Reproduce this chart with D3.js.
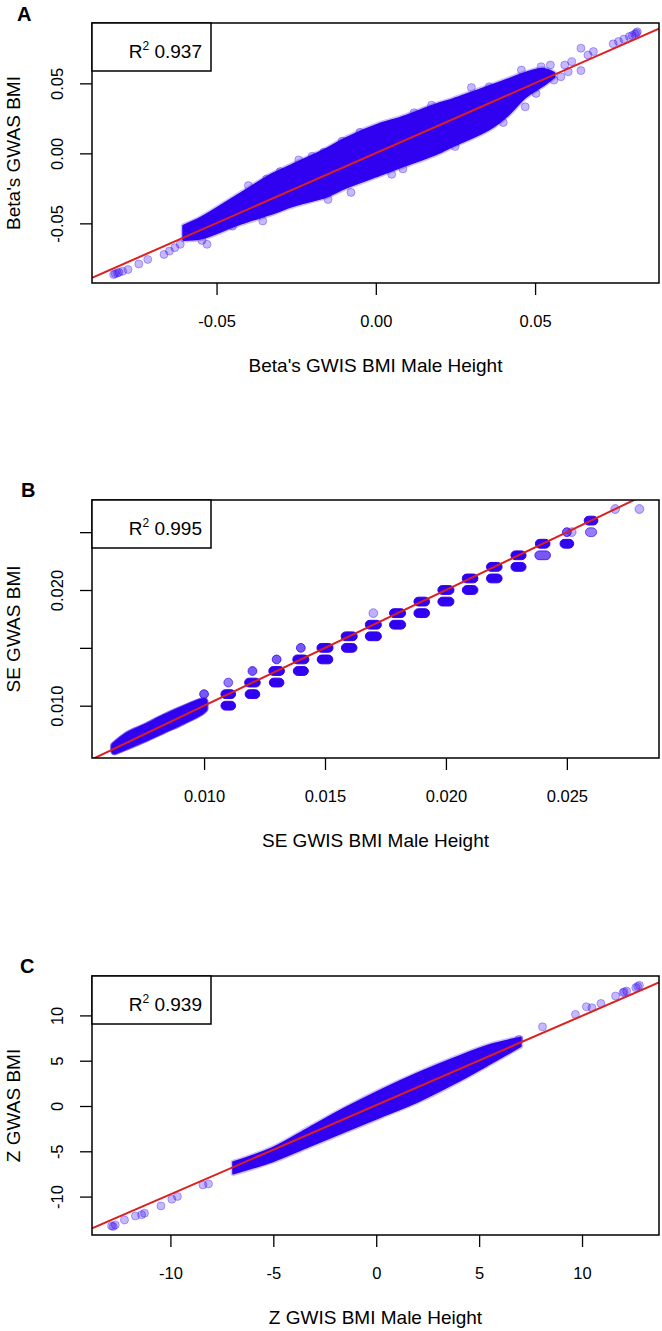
<!DOCTYPE html>
<html><head><meta charset="utf-8">
<script src="https://cdn.jsdelivr.net/npm/d3@7"></script>
<style>body{margin:0;background:#fff}svg{display:block}text{font-family:"Liberation Sans",Arial,sans-serif;fill:#000}</style>
</head><body><svg id="c" width="662" height="1331"></svg>
<script>
// ---------- Panel A : Beta ----------
const betaLimX = [-0.0891, 0.0889];
const betaLimY = [-0.0926, 0.0931];
const betaTicks = [-0.05, 0, 0.05];
const betaTickLabels = ["-0.05", "0.00", "0.05"];
const betaCoreX = [-0.0603, -0.0546, -0.0434, -0.0321, -0.0264, -0.0152, -0.0095, 0.0018, 0.0074, 0.0187, 0.0243, 0.0356, 0.0412, 0.0469, 0.0525, 0.0559];
const betaCoreLo = [-0.0615, -0.0603, -0.0507, -0.0423, -0.0375, -0.0303, -0.0243, -0.0147, -0.0099, -0.0004, 0.0056, 0.0176, 0.0272, 0.0404, 0.0488, 0.0547];
const betaCoreHi = [-0.0519, -0.0459, -0.0303, -0.0147, -0.0087, 0.0032, 0.0104, 0.0212, 0.0248, 0.0344, 0.0384, 0.0476, 0.0523, 0.0571, 0.0600, 0.0571];
const betaPtsX = [0.0745, 0.0762, 0.0779, 0.0796, 0.0813, 0.0821, 0.0805, 0.0818, 0.0644, 0.0683, 0.0666, 0.0615, 0.0593, 0.0604, 0.0644, 0.0581, 0.0548, 0.0519, 0.0559, 0.0457,
  -0.0823, -0.0811, -0.0795, -0.0778, -0.0744, -0.0716, -0.0665, -0.0648, -0.0631, -0.0614, -0.0589, -0.0558, -0.0530, -0.0546, -0.0818, -0.0806,
  -0.0242, -0.0106, 0.0249, 0.0085, -0.0078, -0.0163, -0.0355, 0.0356, 0.0175, -0.0513, -0.0343, 0.0469, 0.0503,
  -0.0400, -0.0300, -0.0200, -0.0050, 0.0120, 0.0300, -0.0450, -0.0150, 0.0050, 0.0200, 0.0400];
const betaPtsY = [0.0782, 0.0799, 0.0816, 0.0835, 0.0852, 0.0868, 0.0842, 0.0860, 0.0751, 0.0727, 0.0703, 0.0655, 0.0631, 0.0583, 0.0591, 0.0547, 0.0631, 0.0619, 0.0523, 0.0595,
  -0.0866, -0.0854, -0.0842, -0.0830, -0.0790, -0.0758, -0.0722, -0.0698, -0.0674, -0.0650, -0.0535, -0.0507, -0.0650, -0.0622, -0.0860, -0.0850,
  -0.0047, 0.0087, 0.0049, -0.0111, -0.0279, 0.0008, -0.0483, 0.0476, 0.0344, -0.0447, -0.0183, 0.0332, 0.0428,
  -0.0230, -0.0130, -0.0020, 0.0150, 0.0290, 0.0470, -0.0520, -0.0330, -0.0150, 0.0030, 0.0220];
const betaFit = [0.0002, 1.0];
const betaR2 = "0.937";

// ---------- Panel B : SE ----------
const seLimX = [0.005366, 0.02881];
const seLimY = [0.00548, 0.02778];
const seTicksX = [0.010, 0.015, 0.020, 0.025];
const seTickLabelsX = ["0.010", "0.015", "0.020", "0.025"];
const seTicksY = [0.010, 0.015, 0.020, 0.025];
const seTickLabelsY = ["0.010", "", "0.020", ""];
const seStripX = [0.00630, 0.00686, 0.00761, 0.00836, 0.00911, 0.00986, 0.01000];
const seStripLo = [0.00610, 0.00658, 0.00725, 0.00797, 0.00869, 0.00950, 0.00975];
const seStripHi = [0.00652, 0.00744, 0.00816, 0.00896, 0.00966, 0.01030, 0.01035];
// rounded SE groups: x, y, half spread of x within group, approx. count
const seGrpX = [0.010, 0.011, 0.011, 0.011, 0.012, 0.012, 0.012, 0.013, 0.013, 0.013, 0.014, 0.014, 0.014, 0.015, 0.015, 0.016, 0.016, 0.017, 0.017, 0.017,
  0.018, 0.018, 0.019, 0.019, 0.020, 0.020, 0.021, 0.021, 0.022, 0.022, 0.023, 0.023, 0.024, 0.024, 0.025, 0.0252, 0.025, 0.026, 0.026, 0.027, 0.028];
const seGrpY = [0.011, 0.012, 0.011, 0.010, 0.013, 0.012, 0.011, 0.014, 0.013, 0.012, 0.015, 0.014, 0.013, 0.015, 0.014, 0.016, 0.015, 0.018, 0.017, 0.016,
  0.018, 0.017, 0.019, 0.018, 0.020, 0.019, 0.021, 0.020, 0.022, 0.021, 0.023, 0.022, 0.024, 0.023, 0.025, 0.025, 0.024, 0.026, 0.025, 0.027, 0.027];
const seGrpW = [0, 0, 0.00012, 0.00012, 0, 0.00014, 0.00012, 0, 0.00014, 0.00012, 0, 0.00015, 0.00013, 0.00015, 0.00014, 0.00015, 0.00014, 0, 0.00015, 0.00015,
  0.00015, 0.00015, 0.00014, 0.00014, 0.00015, 0.00015, 0.00014, 0.00014, 0.00014, 0.00014, 0.00013, 0.00013, 0.00012, 0.00014, 0, 0, 0.0001, 0.0001, 0.00005, 0, 0];
const seGrpN = [3, 2, 20, 20, 3, 20, 20, 3, 20, 20, 3, 20, 20, 20, 20, 20, 20, 1, 20, 20,
  20, 20, 20, 20, 20, 20, 20, 20, 20, 20, 20, 20, 12, 3, 3, 1, 12, 10, 2, 1, 1];
const seFit = [0.0, 1.0];
const seR2 = "0.995";

// ---------- Panel C : Z ----------
const zLimX = [-13.81, 13.74];
const zLimY = [-14.24, 14.35];
const zTicks = [-10, -5, 0, 5, 10];
const zTickLabels = ["-10", "-5", "0", "5", "10"];
const zCoreX = [-6.95, -5.05, -3.27, -1.50, 0.28, 2.05, 3.83, 5.60, 7.02];
const zCoreLo = [-7.45, -6.12, -4.46, -2.80, -1.14, 0.52, 2.54, 4.76, 6.60];
const zCoreHi = [-6.20, -4.65, -2.43, -0.22, 1.81, 3.65, 5.31, 6.79, 7.53];
const zPtsX = [-12.86, -12.68, -12.78, -12.23, -11.70, -11.26, -11.40, -10.46, -9.93, -9.66, -8.42, -8.15,
  8.08, 9.68, 10.21, 10.48, 10.92, 11.63, 11.99, 12.17, 12.61, 12.79, 12.70, 12.05, 6.93];
const zPtsY = [-13.24, -13.13, -13.30, -12.58, -12.14, -11.84, -12.00, -11.03, -10.29, -9.99, -8.71, -8.60,
  8.74, 10.11, 10.96, 10.85, 11.32, 12.14, 12.51, 12.69, 13.06, 13.32, 13.20, 12.60, 7.34];
const zFit = [0.1, 0.985];
const zR2 = "0.939";

const DENSE = "#3000f0", RED = "#dc2020";
const svg = d3.select("#c");

function panel(o) {
  const L = 92, R = 659, T = o.top, B = o.top + o.h;
  const x = d3.scaleLinear().domain(o.limX).range([L, R]);
  const y = d3.scaleLinear().domain(o.limY).range([B, T]);
  const g = svg.append("g");
  const cid = "clip" + o.id;
  svg.append("clipPath").attr("id", cid).append("rect").attr("x", L).attr("y", T).attr("width", R - L).attr("height", B - T);
  const pg = g.append("g").attr("clip-path", `url(#${cid})`);

  if (o.coreX) {
    const core = o.coreX.map((v, i) => ({x: v, lo: o.coreLo[i], hi: o.coreHi[i]}));
    const area = d3.area().x(d => x(d.x)).y0(d => y(d.lo)).y1(d => y(d.hi)).curve(d3.curveCatmullRom);
    const dd = area(core);
    pg.append("path").attr("d", dd).attr("fill", "none")
      .attr("stroke", DENSE).attr("stroke-opacity", o.fringeOp).attr("stroke-width", o.fringe).attr("stroke-linejoin", "round");
    pg.append("path").attr("d", dd).attr("fill", DENSE)
      .attr("stroke", DENSE).attr("stroke-width", o.inner).attr("stroke-linejoin", "round");
  }
  if (o.grpX) {
    const r = 4.4;
    o.grpX.forEach((gx, i) => {
      const a = 1 - Math.pow(0.7, o.grpN[i]);
      const x0 = x(gx - o.grpW[i]), x1 = x(gx + o.grpW[i]);
      pg.append("rect").attr("x", x0 - r).attr("y", y(o.grpY[i]) - r).attr("width", x1 - x0 + 2 * r).attr("height", 2 * r)
        .attr("rx", r).attr("fill", DENSE).attr("fill-opacity", a).attr("stroke", DENSE).attr("stroke-opacity", Math.min(1, a + 0.1)).attr("stroke-width", 1);
    });
  }
  if (o.ptsX) {
    pg.selectAll("circle.p").data(o.ptsX.map((v, i) => [v, o.ptsY[i]])).enter().append("circle")
      .attr("cx", d => x(d[0])).attr("cy", d => y(d[1])).attr("r", 4)
      .attr("fill", DENSE).attr("fill-opacity", 0.28).attr("stroke", DENSE).attr("stroke-opacity", 0.32).attr("stroke-width", 1);
  }
  // fitted line
  const fx = o.limX, f = v => o.fit[0] + o.fit[1] * v;
  pg.append("line").attr("x1", x(fx[0])).attr("y1", y(f(fx[0]))).attr("x2", x(fx[1])).attr("y2", y(f(fx[1])))
    .attr("stroke", RED).attr("stroke-width", 2);

  // axes
  const ax = g.append("g").attr("transform", `translate(0,${B})`)
    .call(d3.axisBottom(x).tickValues(o.ticksX).tickSize(12).tickFormat((d, i) => o.labelsX[i]));
  ax.select(".domain").remove();
  ax.selectAll("line").attr("stroke", "#000").attr("stroke-width", 1.3);
  ax.selectAll("text").attr("y", 44).attr("dy", 0).attr("font-size", 16.5).attr("fill", "#000");
  const ay = g.append("g").attr("transform", `translate(${L},0)`)
    .call(d3.axisLeft(y).tickValues(o.ticksY).tickSize(12).tickFormat((d, i) => o.labelsY[i]));
  ay.select(".domain").remove();
  ay.selectAll("line").attr("stroke", "#000").attr("stroke-width", 1.3);
  ay.selectAll("text").attr("x", null).attr("dy", 0).attr("text-anchor", "middle")
    .attr("transform", "translate(-29,0) rotate(-90)").attr("font-size", 16.5).attr("fill", "#000");
  // box
  g.append("rect").attr("x", L).attr("y", T).attr("width", R - L).attr("height", B - T)
    .attr("fill", "none").attr("stroke", "#000").attr("stroke-width", 1.5);
  // titles
  g.append("text").attr("x", (L + R) / 2).attr("y", B + 89).attr("text-anchor", "middle").attr("font-size", 19).text(o.xTitle);
  g.append("text").attr("transform", `translate(20,${(T + B) / 2}) rotate(-90)`).attr("text-anchor", "middle").attr("font-size", 19).text(o.yTitle);
  // legend
  g.append("rect").attr("x", L).attr("y", T).attr("width", 119).attr("height", 48)
    .attr("fill", "#fff").attr("stroke", "#000").attr("stroke-width", 1.5);
  const t = g.append("text").attr("x", 202).attr("y", T + 35).attr("text-anchor", "end").attr("font-size", 19);
  t.append("tspan").text("R");
  t.append("tspan").attr("dy", -8).attr("font-size", 12).text("2");
  t.append("tspan").attr("dy", 8).text(" " + o.r2);
  // panel letter
  g.append("text").attr("x", o.lx).attr("y", o.ly).attr("font-size", 20).attr("font-weight", "bold").text(o.letter);
}

panel({id: "A", top: 23, h: 260, limX: betaLimX, limY: betaLimY, ticksX: betaTicks, labelsX: betaTickLabels, ticksY: betaTicks, labelsY: betaTickLabels,
  coreX: betaCoreX, coreLo: betaCoreLo, coreHi: betaCoreHi, fringe: 6, fringeOp: 0.25, inner: 3, ptsX: betaPtsX, ptsY: betaPtsY, fit: betaFit, r2: betaR2,
  xTitle: "Beta's GWIS BMI Male Height", yTitle: "Beta's GWAS BMI", letter: "A", lx: 17, ly: 21});
panel({id: "B", top: 500, h: 258, limX: seLimX, limY: seLimY, ticksX: seTicksX, labelsX: seTickLabelsX, ticksY: seTicksY, labelsY: seTickLabelsY,
  coreX: seStripX, coreLo: seStripLo, coreHi: seStripHi, fringe: 9, fringeOp: 0.6, inner: 7, grpX: seGrpX, grpY: seGrpY, grpW: seGrpW, grpN: seGrpN, fit: seFit, r2: seR2,
  xTitle: "SE GWIS BMI Male Height", yTitle: "SE GWAS BMI", letter: "B", lx: 21, ly: 497});
panel({id: "C", top: 976, h: 259, limX: zLimX, limY: zLimY, ticksX: zTicks, labelsX: zTickLabels, ticksY: zTicks, labelsY: zTickLabels,
  coreX: zCoreX, coreLo: zCoreLo, coreHi: zCoreHi, fringe: 5, fringeOp: 0.25, inner: 2, ptsX: zPtsX, ptsY: zPtsY, fit: zFit, r2: zR2,
  xTitle: "Z GWIS BMI Male Height", yTitle: "Z GWAS BMI", letter: "C", lx: 20, ly: 973});
</script></body></html>
